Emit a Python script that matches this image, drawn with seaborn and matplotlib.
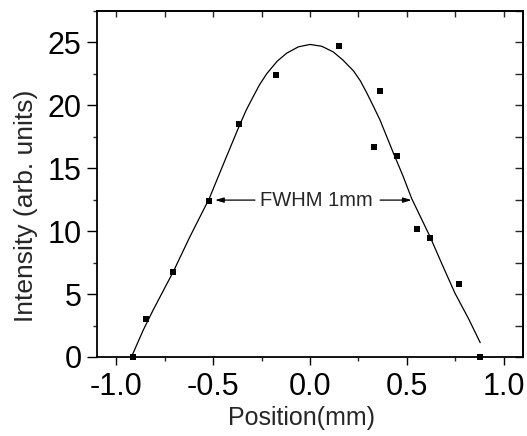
import numpy as np
import pandas as pd
import matplotlib
matplotlib.use("Agg")
import matplotlib.pyplot as plt
import seaborn as sns
from matplotlib.ticker import MultipleLocator, FormatStrFormatter

# measured points
pos_mm = [-0.916, -0.849, -0.708, -0.520, -0.368, -0.177, 0.152, 0.362, 0.331, 0.451, 0.551, 0.620, 0.770, 0.879]
intensity = [0.0, 2.99, 6.78, 12.41, 18.48, 22.4, 24.73, 21.15, 16.71, 15.99, 10.14, 9.43, 5.77, 0.0]

# fitted curve
fit_x = [-0.922, -0.861, -0.810, -0.706, -0.620, -0.520, -0.448, -0.367, -0.330, -0.293, -0.260, -0.224, -0.170,
         -0.120, -0.060, 0.0, 0.060, 0.120, 0.170, 0.224, 0.260, 0.293, 0.330, 0.362, 0.431, 0.480, 0.525,
         0.620, 0.680, 0.749, 0.818, 0.879]
fit_y = [0.0, 2.14, 3.73, 6.78, 9.56, 12.6, 15.3, 18.3, 19.6, 20.7, 21.65, 22.5, 23.5,
         24.15, 24.65, 24.84, 24.7, 24.25, 23.6, 22.75, 21.95, 21.0, 19.85, 18.82, 16.2, 14.4, 12.6,
         9.56, 7.44, 5.06, 3.07, 1.14]

annot_text = "FWHM 1mm"
x_label = "Position(mm)"
y_label = "Intensity (arb. units)"

sns.set_style("ticks")
plt.rcParams['font.family'] = ['Liberation Sans', 'DejaVu Sans']
plt.rcParams['axes.unicode_minus'] = False

fig = plt.figure(figsize=(5.27, 4.36), dpi=100)
ax = fig.add_axes([0.184, 0.1812, 0.8084, 0.7936])

df_pts = pd.DataFrame({"x": pos_mm, "y": intensity})
df_fit = pd.DataFrame({"x": fit_x, "y": fit_y})

sns.lineplot(data=df_fit, x="x", y="y", ax=ax, color="black", linewidth=0.9, sort=False, estimator=None)
sns.scatterplot(data=df_pts, x="x", y="y", ax=ax, color="black", marker="s", s=24, edgecolor="black",
                linewidth=0, zorder=5, clip_on=False)

ax.set_xlim(-1.1, 1.1)
ax.set_ylim(0, 27.5)

ax.xaxis.set_major_locator(MultipleLocator(0.5))
ax.xaxis.set_minor_locator(MultipleLocator(0.25))
ax.xaxis.set_major_formatter(FormatStrFormatter("%.1f"))
ax.yaxis.set_major_locator(MultipleLocator(5))
ax.yaxis.set_minor_locator(MultipleLocator(2.5))

ax.tick_params(which="major", direction="out", length=6, width=1.0, labelsize=22, colors="black")
ax.tick_params(axis="x", which="major", pad=5)
ax.tick_params(axis="y", which="major", pad=4, length=7)
ax.tick_params(which="minor", direction="out", length=3, width=1.0)

for s in ax.spines.values():
    s.set_visible(True)
    s.set_linewidth(1.3)
    s.set_color("black")

# top / right inward ticks
sec_x = ax.secondary_xaxis("top")
sec_x.xaxis.set_major_locator(MultipleLocator(0.25))
sec_x.tick_params(direction="in", length=4, width=1.0, labeltop=False)
sec_x.spines["top"].set_linewidth(1.3)
sec_y = ax.secondary_yaxis("right")
sec_y.yaxis.set_major_locator(MultipleLocator(2.5))
sec_y.tick_params(direction="in", length=6, width=1.0, labelright=False)
sec_y.spines["right"].set_linewidth(1.3)

ax.set_xlabel(x_label, fontsize=18, labelpad=3)
ax.set_ylabel(y_label, fontsize=19, labelpad=7)
ax.xaxis.label.set_x(0.48)
ax.yaxis.label.set_y(0.436)

ax.text(0.035, 12.47, annot_text, fontsize=14.5, ha="center", va="center")
ap = dict(arrowstyle="-|>,head_length=0.5,head_width=0.15", color="black", lw=0.9, shrinkA=0, shrinkB=0)
ax.annotate("", xy=(-0.49, 12.47), xytext=(-0.284, 12.47), arrowprops=ap)
ax.annotate("", xy=(0.525, 12.47), xytext=(0.362, 12.47), arrowprops=ap)

fig.savefig("out.png", dpi=100)
